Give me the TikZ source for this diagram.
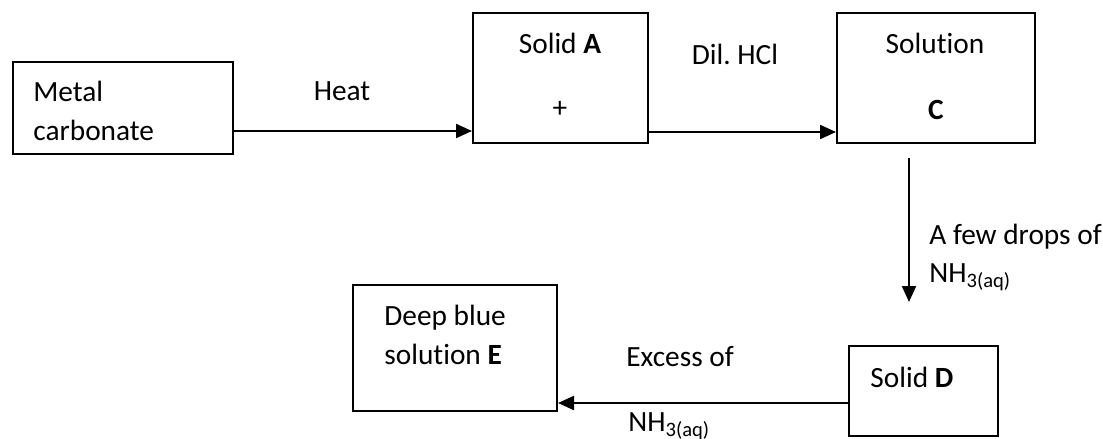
\documentclass[tikz,border=0pt]{standalone}
\usepackage{fontspec}
\setmainfont{Carlito}[Ligatures=NoCommon]
\usetikzlibrary{arrows.meta}
\frenchspacing

\tikzset{rbox/.style={draw,line width=1pt,inner sep=0pt,anchor=north west}}
\tikzset{earrow/.style={line width=1.1pt,-{Triangle[length=8pt,width=7pt]}}}
\tikzset{rtext/.style={inner sep=0pt,align=left}}

\begin{document}
\begin{tikzpicture}[x=0.5pt,y=-0.5pt,font=\fontsize{14.67}{19.8}\selectfont]
        \useasboundingbox (0,0) rectangle (1103,439);
        % draw the boxes
        \node[rbox,minimum width=110pt,minimum height=46pt] (metal) at (12,61) {};
        \node[rbox,minimum width=87.5pt,minimum height=65pt] (solA) at (472,12) {};
        \node[rbox,minimum width=99pt,minimum height=65pt] (solC) at (836,12) {};
        \node[rbox,minimum width=74.5pt,minimum height=45pt] (solD) at (848,345) {};
        \node[rbox,minimum width=102pt,minimum height=63pt] (solE) at (352,284) {};

        % texts in the boxes
        \node[rtext,anchor=west] (metaltxt) at (33,111) {Metal\\carbonate};
        \node[rtext] (solAtxt) at (560,43) {Solid \textbf{A}};
        \node[rtext] (plusA) at (560,109) {+};
        \node[rtext] (solCtxt) at (935,43) {Solution};
        \node[rtext] (lettC) at (936,110) {\textbf{C}};
        \node[rtext,anchor=west] (solDtxt) at (870,377) {Solid \textbf{D}};
        \node[rtext,anchor=west] (solEtxt) at (384,335) {Deep blue\\solution \textbf{E}};

        % draw the arrows
        \coordinate (r1) at (0,131);
        \coordinate (r2) at (0,132);
        \coordinate (r3) at (0,403);
        \coordinate (c1) at (909,158);
        \coordinate (c2) at (909,302);
        \draw[earrow] (metal.east |- r1) -- (solA.west |- r1);
        \draw[earrow] (solA.east |- r2) -- (solC.west |- r2);
        \draw[earrow] (c1) -- (c2);
        \draw[earrow] (solD.west |- r3) -- (solE.east |- r3);

        % arrow labels
        \node[rtext] (heat) at (342,91) {Heat};
        \node[rtext] (hcl) at (735,54) {Dil. HCl};
        \node[rtext,anchor=west] (drops) at (929,237) {A few drops of};
        \node[rtext,anchor=west] (nh3a) at (929,277) {NH\textsubscript{3(aq)}};
        \node[rtext,anchor=west] (excess) at (626,357) {Excess of};
        \node[rtext,anchor=west] (nh3b) at (628,426) {NH\textsubscript{3(aq)}};
    \end{tikzpicture}
\end{document}
